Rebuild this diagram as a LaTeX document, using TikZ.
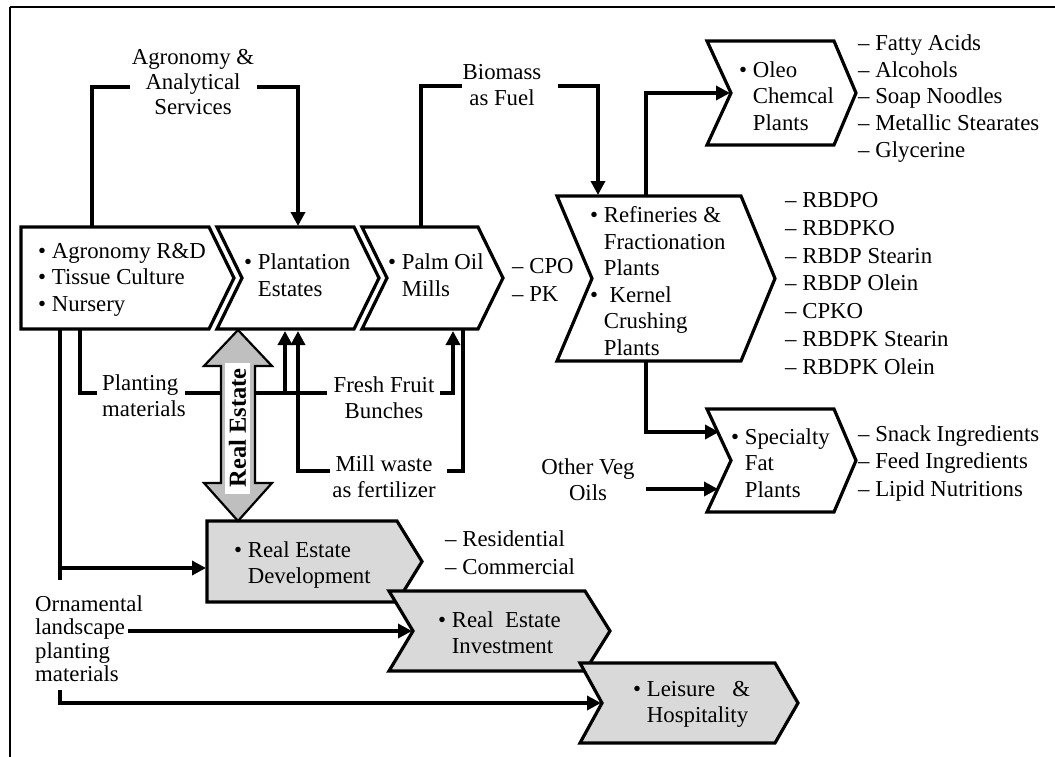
\documentclass[tikz,border=0pt]{standalone}
\usepackage{fontspec}
\setmainfont{Liberation Serif}
\usetikzlibrary{arrows.meta}
\newcommand\hb{\phantom{\textbullet\ }}
\begin{document}
\begin{tikzpicture}[x=1pt,y=-1pt,
  box/.style={draw=black, line width=3.2pt, fill=white, line join=miter},
  gbox/.style={box, fill=gray!30},
  ln/.style={line width=3.4pt},
  arr/.style={ln, -{Triangle[length=14pt,width=14pt]}},
  txt/.style={font=\fontsize{22.8}{26.5}\selectfont, inner sep=0pt},
  lst/.style={txt, align=left, anchor=west},
]
\useasboundingbox (0,0) rectangle (1055,757);
% frame
\draw[line width=2.2pt] (9.5,7) -- (1056,7);
\draw[line width=1.2pt] (10,7) -- (10,758);

% connector end points
\coordinate (c1n) at (92,227);
\coordinate (agrL) at (130,87);
\coordinate (agrR) at (257,87);
\coordinate (c2n) at (298,226);
\coordinate (c3n) at (421,227);
\coordinate (bioL) at (462,86);
\coordinate (bioR) at (558,86);
\coordinate (c4n) at (598,195);
\coordinate (c4o) at (646,196);
\coordinate (oleoW) at (730,93);
\coordinate (c4s) at (646,361);
\coordinate (specW) at (719,432);
\coordinate (ovoE) at (646,489);
\coordinate (specW2) at (718,489);
\coordinate (c1s1) at (60,329);
\coordinate (lftEnd) at (60,580);
\coordinate (j1) at (60,568);
\coordinate (devW) at (206,568);
\coordinate (ornB) at (60,690);
\coordinate (leisW) at (601,703);
\coordinate (ornA) at (128,631);
\coordinate (invW) at (412,631);
\coordinate (c1s2) at (80,329);
\coordinate (plL) at (97,393);
\coordinate (plR) at (185,393);
\coordinate (ffL) at (327,393);
\coordinate (j2) at (285,393);
\coordinate (c2s1) at (285,331);
\coordinate (ffR) at (440,393);
\coordinate (c3s1) at (453,331);
\coordinate (c3s2) at (463,329);
\coordinate (mwR) at (447,471);
\coordinate (mwL) at (330,471);
\coordinate (c2s2) at (298,331);

% connectors
\draw[ln] (c1n) |- (agrL);
\draw[arr] (agrR) -| (c2n);
\draw[ln] (c3n) |- (bioL);
\draw[arr] (bioR) -| (c4n);
\draw[arr] (c4o) |- (oleoW);
\draw[arr] (c4s) |- (specW);
\draw[arr] (ovoE) -- (specW2);
\draw[ln] (c1s1) -- (lftEnd);
\draw[arr] (j1) -- (devW);
\draw[arr] (ornB) |- (leisW);
\draw[arr] (ornA) -- (invW);
\draw[ln] (c1s2) |- (plL);
\draw[ln] (plR) -- (ffL);
\draw[arr] (j2) -- (c2s1);
\draw[arr] (ffR) -| (c3s1);
\draw[ln] (c3s2) |- (mwR);
\draw[arr] (mwL) -| (c2s2);

% chevrons
\draw[box] (21,227) -- (209,227) -- (234,278) -- (209,329) -- (21,329) -- cycle;
\draw[box] (217,227) -- (354,227) -- (379,278) -- (354,329) -- (217,329) -- (242,278) -- cycle;
\draw[box] (362,227) -- (478,227) -- (503,278) -- (478,329) -- (362,329) -- (387,278) -- cycle;
\draw[box] (557,196) -- (741,196) -- (775,278.5) -- (741,361) -- (557,361) -- (592,278.5) -- cycle;
\draw[box] (707,41) -- (834,41) -- (856,93) -- (834,145) -- (707,145) -- (731,93) -- cycle;
\draw[box] (707,409) -- (834,409) -- (856,460.5) -- (834,512) -- (707,512) -- (731,460.5) -- cycle;
\draw[gbox] (207,521) -- (397,521) -- (422,561.5) -- (397,602) -- (207,602) -- cycle;
\draw[gbox] (389,591) -- (585,591) -- (610,631) -- (585,671) -- (389,671) -- (413,631) -- cycle;
\draw[gbox] (580,663) -- (775,663) -- (798,703) -- (775,743) -- (580,743) -- (602,703) -- cycle;

% real estate double arrow
\draw[line width=2.2pt, fill=gray!50, line join=miter] (238,330) -- (272,366) -- (255,366) -- (255,483) -- (272,483)
  -- (238,521) -- (204,483) -- (221,483) -- (221,366) -- (204,366) -- cycle;
\node[fill=white, rotate=90, minimum width=131pt, minimum height=25pt, inner sep=0pt,
  font=\fontsize{24.5}{26}\selectfont\bfseries] (re) at (237.5,428) {Real Estate};

% labels
\node[txt, align=center, font=\fontsize{22.8}{25}\selectfont] (agr) at (193,82) {Agronomy \&\\Analytical\\Services};
\node[txt, align=center] (bio) at (502,85) {Biomass\\as Fuel};
\node[lst] (plm) at (102,395.5) {Planting\\materials};
\node[txt, align=center] (ffb) at (384,397.5) {Fresh Fruit\\Bunches};
\node[txt, align=center] (mw) at (384,476.5) {Mill waste\\as fertilizer};
\node[txt, align=center] (ovo) at (588,479.5) {Other Veg\\Oils};
\node[lst, font=\fontsize{22.8}{23.5}\selectfont] (orn) at (35,638.5) {Ornamental\\landscape\\planting\\materials};

% chevron texts
\node[lst] (t1) at (38,279.5) {\textbullet\ Agronomy R\&D\\\textbullet\ Tissue Culture\\\textbullet\ Nursery};
\node[lst] (t2) at (244,275) {\textbullet\ Plantation\\\hb Estates};
\node[lst] (t3) at (388,275) {\textbullet\ Palm Oil\\\hb Mills};
\node[lst] (t4) at (590,281) {\textbullet\ Refineries \&\\\hb Fractionation\\\hb Plants\\\textbullet\ \ Kernel\\\hb Crushing\\\hb Plants};
\node[lst] (t5) at (739,96) {\textbullet\ Oleo\\\hb Chemcal\\\hb Plants};
\node[lst] (t6) at (731,463) {\textbullet\ Specialty\\\hb Fat\\\hb Plants};
\node[lst] (t7) at (234,565) {\textbullet\ Real Estate\\\hb Development};
\node[lst] (t8) at (438,632.5) {\textbullet\ Real\ \ Estate\\\hb Investment};
\node[lst] (t9) at (633,704.5) {\textbullet\ Leisure\ \ \ \&\\\hb Hospitality};

% output lists
\node[lst, font=\fontsize{22.8}{26.75}\selectfont] (o1) at (858,98.5) {– Fatty Acids\\– Alcohols\\– Soap Noodles\\– Metallic Stearates\\– Glycerine};
\node[lst, font=\fontsize{22.8}{27.8}\selectfont] (o2) at (785,283.5) {– RBDPO\\– RBDPKO\\– RBDP Stearin\\– RBDP Olein\\– CPKO\\– RBDPK Stearin\\– RBDPK Olein};
\node[lst, font=\fontsize{22.8}{27.5}\selectfont] (o3) at (858,463.5) {– Snack Ingredients\\– Feed Ingredients\\– Lipid Nutritions};
\node[lst, font=\fontsize{22.8}{28}\selectfont] (o4) at (512,280) {– CPO\\– PK};
\node[lst, font=\fontsize{22.8}{28.4}\selectfont] (o5) at (445,552.5) {– Residential\\– Commercial};
\end{tikzpicture}
\end{document}
